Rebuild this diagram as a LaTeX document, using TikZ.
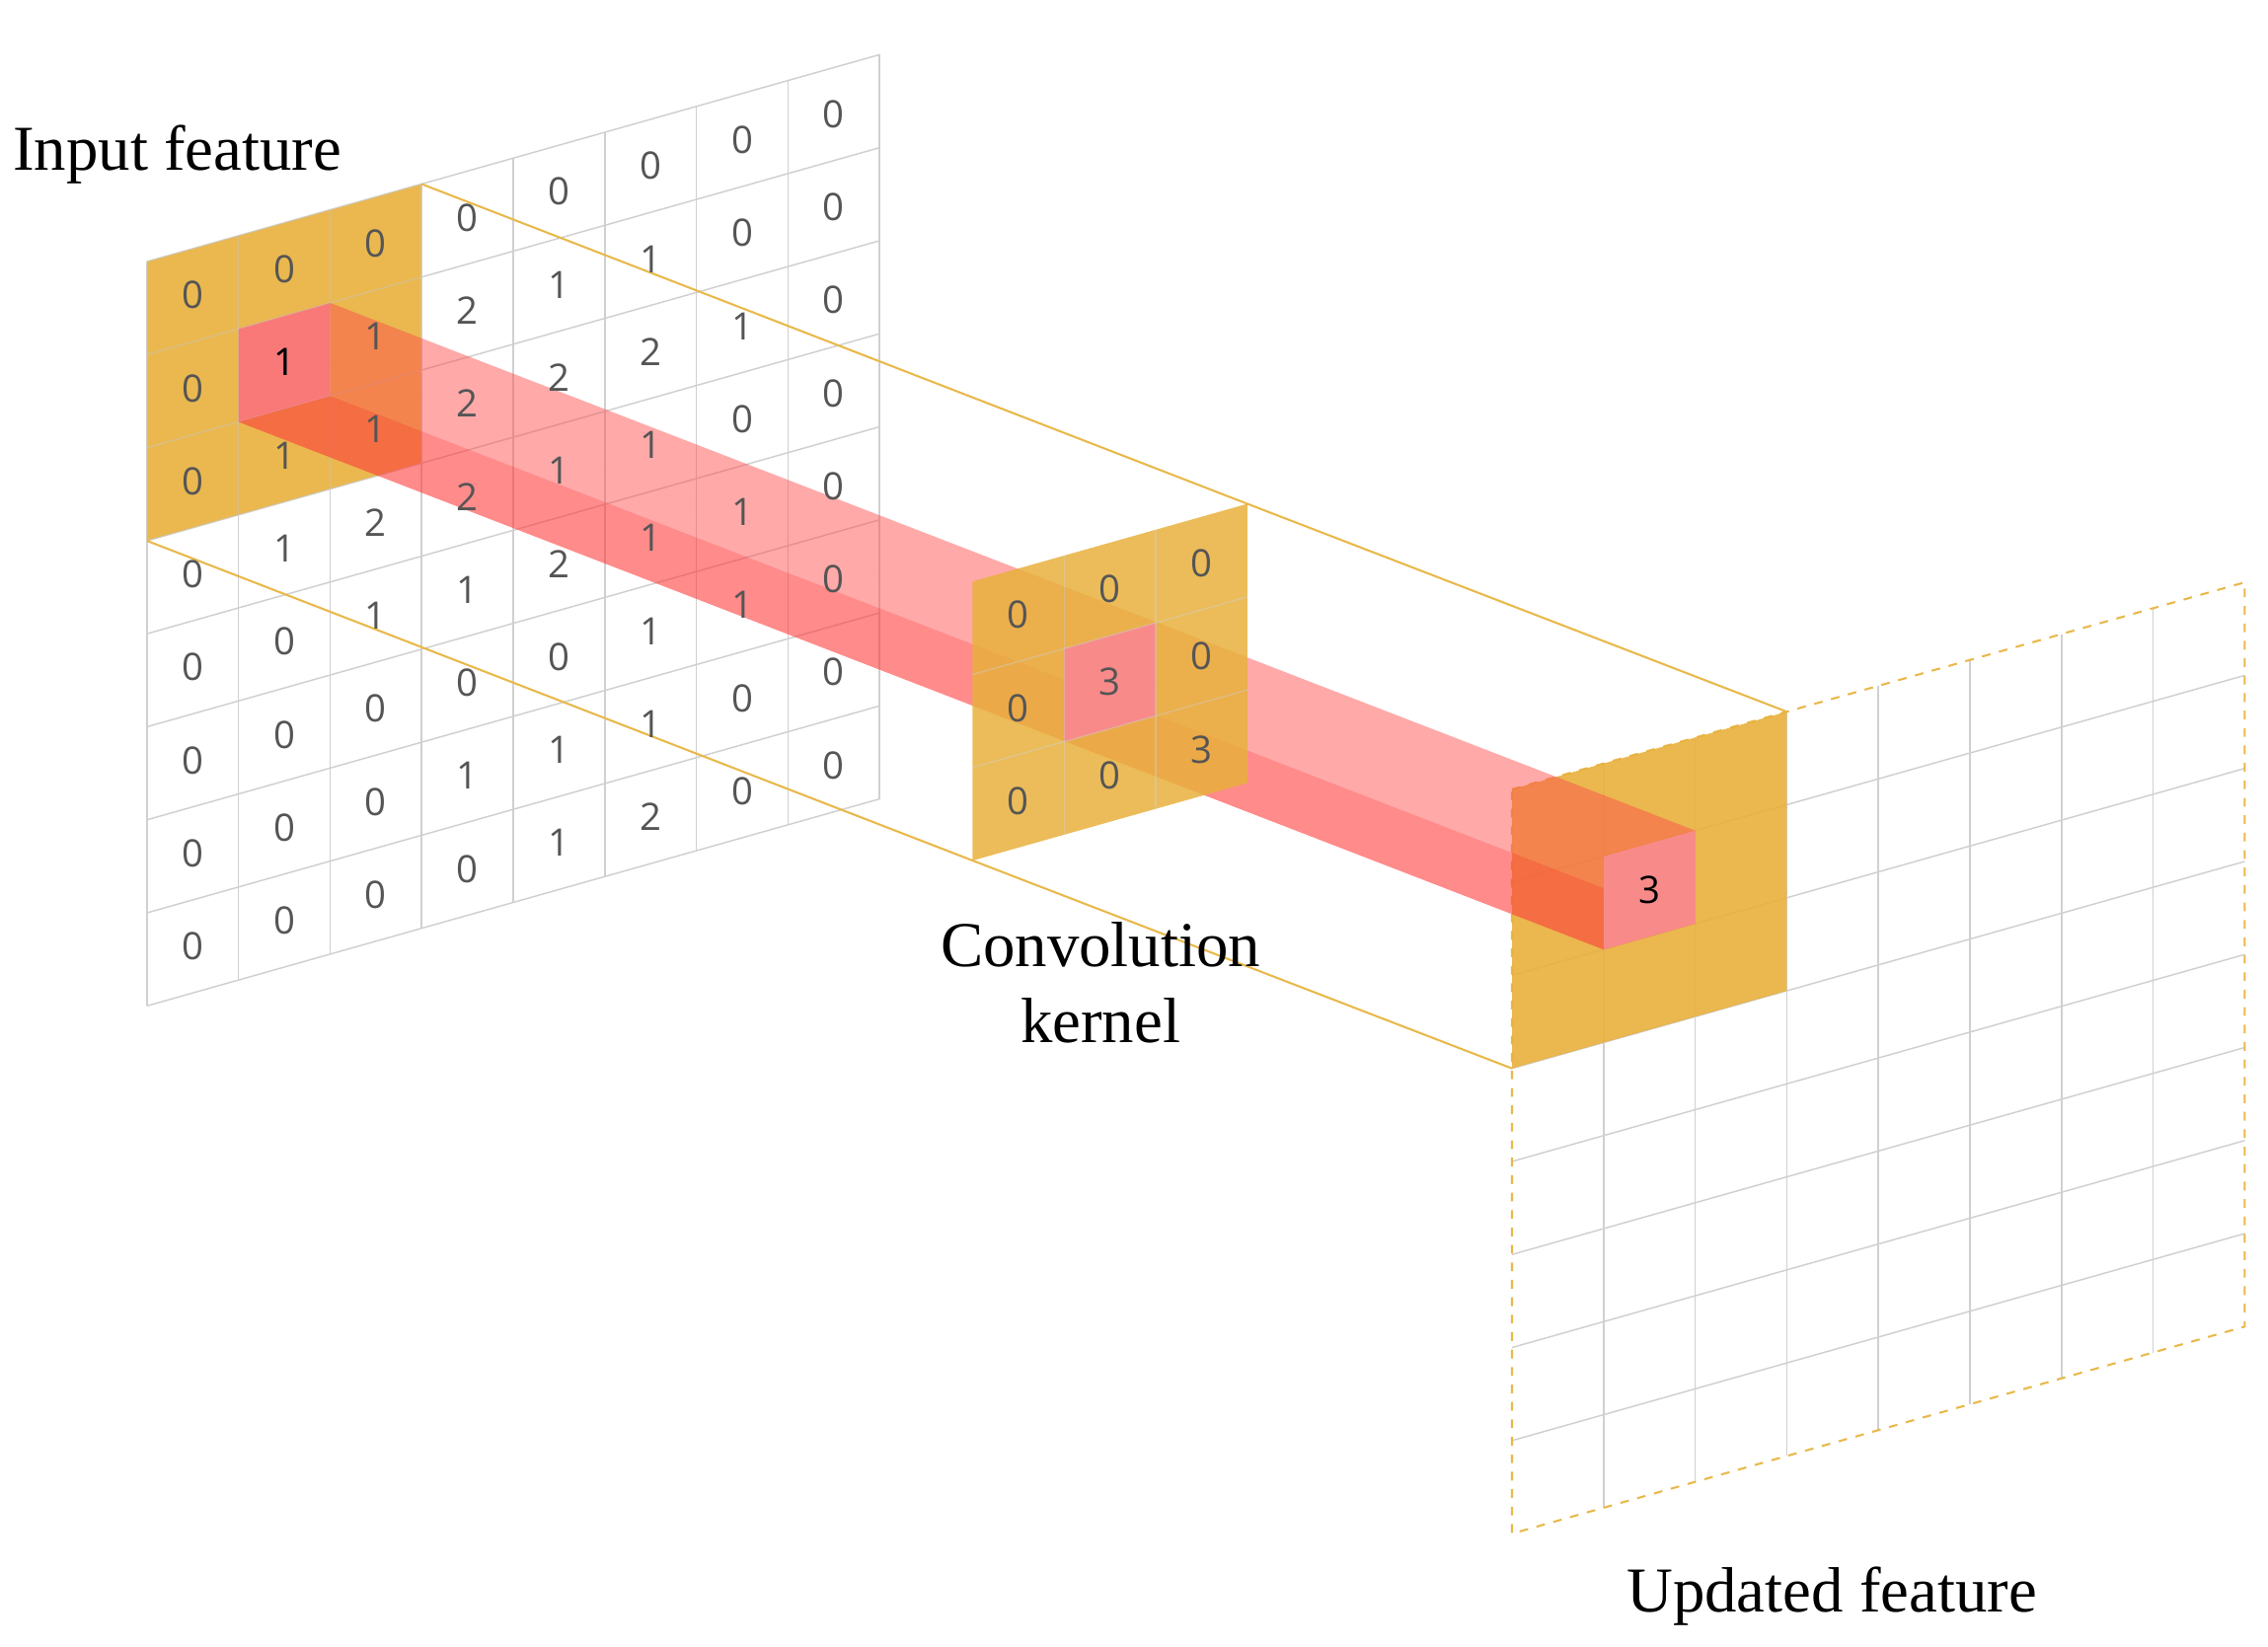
\documentclass[tikz,border=0pt]{standalone}
\usepackage{fontspec}
\setmainfont{Liberation Serif}
\newfontfamily\digf{Open Sans}
\definecolor{hl}{HTML}{E8B03C}
\definecolor{pk}{HTML}{F88A8A}
\definecolor{gl}{HTML}{D0D0D0}
\definecolor{yl}{HTML}{E8B84A}
\definecolor{dg}{HTML}{555555}
\tikzset{
 dig/.style={font=\digf\fontsize{13}{13}\selectfont, text=dg, inner sep=0pt},
 lab/.style={font=\fontsize{22}{24}\selectfont, align=center},
 gline/.style={draw=gl, line width=0.5pt},
 hlf/.style={fill=hl, fill opacity=0.9},
 pkf/.style={fill=pk},
 yline/.style={draw=yl, line width=0.7pt},
 prism/.style={fill=red!70!white, fill opacity=0.28},
 prismd/.style={fill=red!85!white, fill opacity=0.42},
 skew/.style={x={(31.5pt,8.9pt)}, y={(0pt,-32pt)}}
}
\begin{document}
\begin{tikzpicture}[x=0.5pt,y=-0.5pt]
\useasboundingbox (0,0) rectangle (1560,1133);
% input grid
\begin{scope}[shift={(50.5pt,-90pt)}, skew]
 \foreach \k in {0,...,8} {\draw[gline] (\k,0) -- (\k,8); \draw[gline] (0,\k) -- (8,\k);}
 \fill[hlf] (0,0) -- (3,0) -- (3,3) -- (0,3) -- cycle;
 \fill[pkf] (1,1) -- (2,1) -- (2,2) -- (1,2) -- cycle;
 \foreach \k in {0,...,3} {\draw[gline, draw opacity=0.4] (\k,0) -- (\k,3); \draw[gline, draw opacity=0.4] (0,\k) -- (3,\k);}
 \coordinate (iTL) at (1,1); \coordinate (iTR) at (2,1);
 \coordinate (iBL) at (1,2); \coordinate (iBR) at (2,2);
 \coordinate (iA) at (3,0); \coordinate (iB) at (0,3);
\end{scope}
% output grid
\begin{scope}[shift={(520pt,-271.5pt)}, skew]
 \foreach \k in {1,...,7} {\draw[gline] (\k,0) -- (\k,8); \draw[gline] (0,\k) -- (8,\k);}
 \draw[yl, dashed, line width=0.7pt] (0,0) -- (8,0) -- (8,8) -- (0,8) -- cycle;
 \fill[hlf] (0,0) -- (3,0) -- (3,3) -- (0,3) -- cycle;
 \coordinate (oTL) at (1,1); \coordinate (oTR) at (2,1);
 \coordinate (oBL) at (1,2); \coordinate (oBR) at (2,2);
 \coordinate (oA) at (3,0); \coordinate (oB) at (0,3);
\end{scope}
% kernel corners
\begin{scope}[shift={(334.5pt,-200pt)}, skew]
 \coordinate (kA) at (3,0); \coordinate (kB) at (0,3);
\end{scope}
% guide lines
\draw[yline] (iA) -- (kA) -- (oA);
\draw[yline] (iB) -- (kB) -- (oB);
% prism
\fill[prismd] (iBL) -- (iBR) -- (oBR) -- (oBL) -- cycle;
\fill[prism] (iTL) -- (iBL) -- (oBL) -- (oTL) -- cycle;
\fill[prism] (iTR) -- (iBR) -- (oBR) -- (oTR) -- cycle;
\fill[prism] (iTL) -- (iTR) -- (oTR) -- (oTL) -- cycle;
% kernel
\begin{scope}[shift={(334.5pt,-200pt)}, skew]
 \fill[hl, fill opacity=0.85] (0,0) -- (3,0) -- (3,3) -- (0,3) -- cycle;
 \fill[pkf] (1,1) -- (2,1) -- (2,2) -- (1,2) -- cycle;
 \foreach \k in {1,2} {\draw[gline, draw opacity=0.4] (\k,0) -- (\k,3); \draw[gline, draw opacity=0.4] (0,\k) -- (3,\k);}
 \foreach \row [count=\i from 0] in {{0,0,0},{0,3,0},{0,0,3}}
  \foreach \v [count=\j from 0] in \row
   \node[dig] (k\i\j) at (\j+.5,\i+.5) {\v};
\end{scope}
% output center cell
\begin{scope}[shift={(520pt,-271.5pt)}, skew]
 \fill[pkf] (1,1) -- (2,1) -- (2,2) -- (1,2) -- cycle;
 \node[dig, text=black] (o11) at (1.5,1.5) {3};
\end{scope}
% input numbers
\begin{scope}[shift={(50.5pt,-90pt)}, skew]
 \foreach \row [count=\i from 0] in {{0,0,0,0,0,0,0,0},{0,1,1,2,1,1,0,0},{0,1,1,2,2,2,1,0},{0,1,2,2,1,1,0,0},{0,0,1,1,2,1,1,0},{0,0,0,0,0,1,1,0},{0,0,0,1,1,1,0,0},{0,0,0,0,1,2,0,0}}
  \foreach \v [count=\j from 0] in \row
   \node[dig] (n\i\j) at (\j+.5,\i+.5) {\v};
 \node[dig, text=black] at (1.5,1.5) {1};
\end{scope}
% labels
\node[lab] (l1) at (122,106) {Input feature};
\node[lab] (l2) at (757,676) {Convolution\\[2pt]kernel};
\node[lab] (l3) at (1260,1098) {Updated feature};
\end{tikzpicture}
\end{document}
